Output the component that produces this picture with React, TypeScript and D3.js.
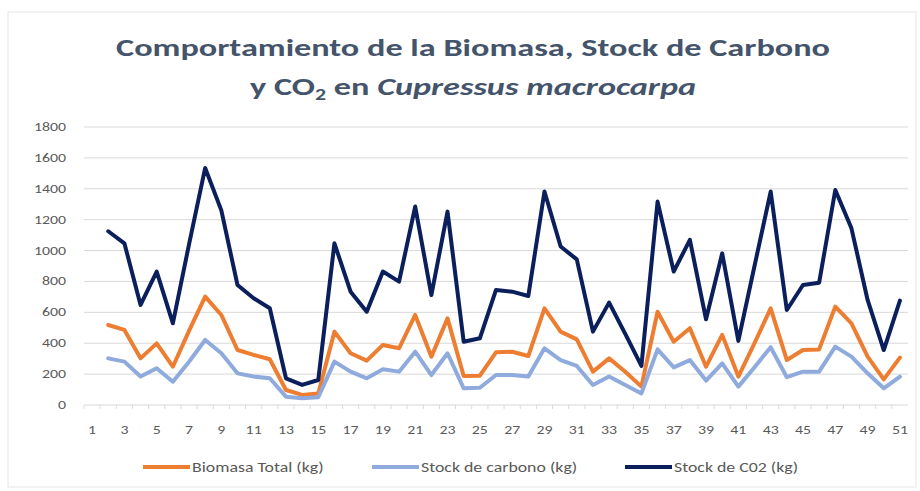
import React from "react";
import * as d3 from "d3";

const categories: number[] = d3.range(1, 52);
const xTickLabels: number[] = categories.filter((c) => c % 2 === 1);
const yTicks: number[] = [0, 200, 400, 600, 800, 1000, 1200, 1400, 1600, 1800];

// data from category 2 to 51
const biomasa: number[] = [
  518, 486, 302, 399, 248, 480, 702, 583, 356, 324, 296, 97, 65, 75, 475,
  335, 287, 389, 367, 583, 313, 561, 188, 190, 341, 345, 317, 626, 475, 425,
  216, 302, 215, 119, 604, 410, 497, 248, 454, 184, 400, 626, 291, 356, 360,
  637, 529, 313, 166, 307,
];
const carbono: number[] = [
  302, 281, 184, 238, 151, 280, 421, 335, 205, 184, 173, 54, 43, 50, 281,
  216, 173, 231, 216, 345, 194, 335, 108, 112, 194, 194, 184, 367, 291, 253,
  130, 184, 130, 75, 360, 244, 291, 158, 270, 119, 245, 374, 180, 216, 216,
  378, 313, 205, 108, 184,
];
const co2: number[] = [
  1125, 1047, 648, 864, 529, 1040, 1535, 1260, 777, 691, 626, 173, 130, 162, 1047,
  734, 604, 864, 799, 1285, 712, 1252, 410, 432, 745, 734, 706, 1382, 1026, 943,
  475, 663, 460, 253, 1317, 864, 1069, 555, 982, 415, 900, 1382, 615, 777, 792,
  1392, 1144, 680, 356, 676,
];

const seriesNames = ["Biomasa Total (kg)", "Stock de carbono (kg)", "Stock de C02 (kg)"];
const seriesColors = ["#ED7D31", "#8FAADC", "#0B1F5C"];

function SText(props: {
  x: number;
  y: number;
  sx?: number;
  anchor?: "start" | "middle" | "end";
  size: number;
  fill: string;
  weight?: string;
  children: React.ReactNode;
}) {
  return (
    <g transform={`translate(${props.x},${props.y}) scale(${props.sx || 1.32},1)`}>
      <text
        x={0}
        y={0}
        textAnchor={props.anchor || "start"}
        fontSize={props.size}
        fill={props.fill}
        fontWeight={props.weight || "normal"}
      >
        {props.children}
      </text>
    </g>
  );
}

export default function App() {
  const W = 920;
  const H = 491;
  const left = 84;
  const right = 908;
  const top = 127;
  const bottom = 405;

  const x = d3.scaleBand<number>().domain(categories).range([left, right]);
  const y = d3.scaleLinear().domain([0, 1800]).range([bottom, top]);
  const cx = (c: number) => (x(c) as number) + x.bandwidth() / 2;

  const line = d3
    .line<number>()
    .x((_, i) => cx(i + 2))
    .y((d) => y(d));

  const seriesData = [biomasa, carbono, co2];
  const legendX = [143, 372, 625];
  const font = "Calibri, Carlito, Lato, 'Liberation Sans', sans-serif";

  return (
    <svg
      width={W}
      height={H}
      style={{ position: "absolute", left: 0, top: 0, background: "#fff" }}
      fontFamily={font}
    >
      <rect x={8} y={12} width={W - 12} height={H - 16} fill="#fff" stroke="#e6e6e6" />
      <SText x={473} y={56} sx={1.37} anchor="middle" size={25} weight="bold" fill="#44546A">
        Comportamiento de la Biomasa, Stock de Carbono
      </SText>
      <SText x={473} y={95} sx={1.37} anchor="middle" size={25} weight="bold" fill="#44546A">
        y CO<tspan fontSize={16} dy={5}>2</tspan>
        <tspan dy={-5}> en </tspan>
        <tspan fontStyle="italic">Cupressus macrocarpa</tspan>
      </SText>

      {yTicks.map((t) => (
        <g key={t}>
          <line x1={left} x2={right} y1={y(t)} y2={y(t)} stroke="#D9D9D9" strokeWidth={1} />
          <SText x={66} y={y(t) + 4} anchor="end" size={12} fill="#595959">
            {t}
          </SText>
        </g>
      ))}
      {categories.map((c) => (
        <line
          key={c}
          x1={x(c) as number}
          x2={x(c) as number}
          y1={bottom}
          y2={bottom + 4}
          stroke="#D9D9D9"
        />
      ))}
      {xTickLabels.map((c) => (
        <SText key={c} x={cx(c)} y={bottom + 29} anchor="middle" size={12} fill="#595959">
          {c}
        </SText>
      ))}

      {seriesData.map((s, k) => (
        <path
          key={k}
          d={line(s) || ""}
          fill="none"
          stroke={seriesColors[k]}
          strokeWidth={4}
          strokeLinejoin="round"
          strokeLinecap="round"
        />
      ))}

      {seriesNames.map((n, k) => (
        <g key={n}>
          <line
            x1={legendX[k]}
            x2={legendX[k] + 47}
            y1={467}
            y2={467}
            stroke={seriesColors[k]}
            strokeWidth={4}
          />
          <SText x={legendX[k] + 49} y={472} size={13.5} fill="#595959">
            {n}
          </SText>
        </g>
      ))}
    </svg>
  );
}
